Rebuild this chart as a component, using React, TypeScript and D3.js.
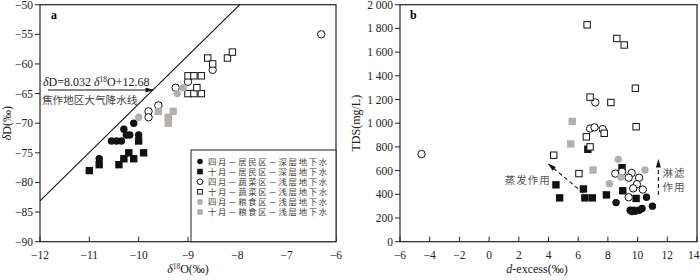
import * as d3 from 'd3'
import React, { useEffect, useRef } from 'react'

const W = 700
const H = 280

// panel a: δ18O (x) vs δD (y)
const aAprResDeep = [[-10.1, -70], [-10.3, -71], [-10.25, -72], [-10.18, -72], [-10.55, -73], [-10.45, -73], [-10.35, -73], [-10.0, -72], [-10.8, -76]]
const aOctResDeep = [[-10.0, -73], [-10.2, -75], [-9.9, -75], [-10.1, -76], [-10.3, -76], [-10.4, -77], [-10.8, -77], [-11.0, -78]]
const aAprVegShallow = [[-6.3, -55], [-8.5, -61], [-9.0, -63], [-9.25, -64], [-9.6, -67], [-9.8, -68], [-9.8, -69]]
const aOctVegShallow = [[-8.6, -59], [-8.5, -60], [-8.2, -59], [-8.1, -58], [-9.0, -62], [-8.88, -62], [-8.73, -62], [-9.0, -65], [-8.88, -65], [-8.73, -65], [-8.82, -64]]
const aAprGrainShallow = [[-9.1, -64], [-9.22, -65], [-10.0, -69]]
const aOctGrainShallow = [[-9.6, -68], [-9.3, -68], [-9.4, -69], [-9.4, -70]]

// panel b: d-excess (x) vs TDS (y)
const bAprResDeep = [[8.55, 330], [9.5, 265], [9.75, 265], [10.1, 265], [10.3, 280], [9.62, 255], [9.85, 258], [10.6, 375], [11.0, 300]]
const bOctResDeep = [[6.65, 780], [4.5, 480], [4.75, 370], [6.35, 445], [6.45, 370], [6.95, 370], [7.9, 395], [8.95, 625], [9.0, 430], [9.9, 365]]
const bAprVegShallow = [[-4.55, 740], [7.15, 1175], [6.8, 955], [7.1, 965], [7.65, 950], [8.5, 575], [8.95, 590], [9.6, 580], [9.4, 540], [10.1, 540], [9.95, 485], [9.7, 450], [10.35, 440], [9.4, 375]]
const bOctVegShallow = [[6.6, 1830], [8.6, 1715], [9.1, 1660], [9.85, 1295], [6.8, 1220], [8.2, 1175], [9.9, 970], [7.75, 915], [6.55, 885], [6.8, 800], [4.35, 730], [6.05, 575]]
const bAprGrainShallow = [[8.1, 490], [8.7, 695], [8.88, 545], [10.5, 605]]
const bOctGrainShallow = [[5.6, 1015], [5.5, 825], [7.0, 605]]

const legendLabels = [
    '四月－居民区－深层地下水',
    '十月－居民区－深层地下水',
    '四月－蔬菜区－浅层地下水',
    '十月－蔬菜区－浅层地下水',
    '四月－粮食区－浅层地下水',
    '十月－粮食区－浅层地下水',
]

const aXTicks = [-12, -11, -10, -9, -8, -7, -6]
const aYTicks = [-50, -55, -60, -65, -70, -75, -80, -85, -90]
const bXTicks = [-6, -4, -2, 0, 2, 4, 6, 8, 10, 12, 14]
const bYTicks = [0, 200, 400, 600, 800, 1000, 1200, 1400, 1600, 1800, 2000]

// meteoric water line as drawn in the figure (ends)
const lmwlEnds = [[-12, -83.1], [-7.95, -50]]
const evapArrow = [[6.35, 410], [4.0, 655]]
const leachArrow = [[11.4, 395], [11.4, 690]]

const GREY = '#b3afad'
const SERIF = '"Liberation Serif", "DejaVu Serif", serif'
const CJK = '"Noto Sans CJK SC", sans-serif'

// marker styles, same order as legend
const markStyles = [
    { shape: 'circle', fill: '#111', stroke: 'none' },
    { shape: 'square', fill: '#111', stroke: 'none' },
    { shape: 'circle', fill: '#fff', stroke: '#111' },
    { shape: 'square', fill: '#fff', stroke: '#111' },
    { shape: 'circle', fill: GREY, stroke: 'none' },
    { shape: 'square', fill: GREY, stroke: 'none' },
]

const drawMark = (g: any, shape: string, x: number, y: number, size: number, fill: string, stroke: string) => {
    if (shape === 'circle') {
        g.append('circle').attr('cx', x).attr('cy', y).attr('r', size / 2)
            .attr('fill', fill).attr('stroke', stroke).attr('stroke-width', 1)
    } else {
        const s = stroke === 'none' ? size : size - 1
        g.append('rect').attr('x', x - s / 2).attr('y', y - s / 2).attr('width', s).attr('height', s)
            .attr('fill', fill).attr('stroke', stroke).attr('stroke-width', 1)
    }
}

const App = (): JSX.Element => {
    const ref = useRef<SVGSVGElement>(null)

    useEffect(() => {
        const svg = d3.select(ref.current)
        svg.selectAll('*').remove()

        const defs = svg.append('defs')
        defs.append('marker').attr('id', 'arr').attr('viewBox', '0 0 10 6')
            .attr('refX', 9).attr('refY', 3).attr('markerWidth', 9).attr('markerHeight', 5)
            .attr('markerUnits', 'userSpaceOnUse').attr('orient', 'auto')
            .append('path').attr('d', 'M0,0 L10,3 L0,6 Z').attr('fill', '#111')

        const top = 4.7
        const bottom = 241.7

        const axes = (x: any, y: any, xTicks: number[], yTicks: number[], yFmt: (v: number) => string) => {
            const [x0, x1] = x.range()
            const g = svg.append('g')
            // frame
            g.append('rect').attr('x', x0).attr('y', top).attr('width', x1 - x0).attr('height', bottom - top)
                .attr('fill', 'none').attr('stroke', '#222').attr('stroke-width', 1.2)
            // x ticks (inward)
            xTicks.forEach((t) => {
                const last = x(t) > 690
                g.append('line').attr('x1', x(t)).attr('x2', x(t)).attr('y1', bottom).attr('y2', bottom - 5)
                    .attr('stroke', '#222')
                g.append('text').attr('x', last ? 699.5 : x(t)).attr('y', bottom + 17)
                    .attr('text-anchor', last ? 'end' : 'middle')
                    .style('font-family', SERIF).style('font-size', '11.5px').attr('fill', '#222')
                    .text(String(t).replace('-', '−'))
            })
            // y ticks (outward)
            yTicks.forEach((t) => {
                g.append('line').attr('x1', x0 - 5).attr('x2', x0).attr('y1', y(t)).attr('y2', y(t))
                    .attr('stroke', '#222')
                g.append('text').attr('x', x0 - 7).attr('y', y(t) + 4).attr('text-anchor', 'end')
                    .style('font-family', SERIF).style('font-size', '11.5px').attr('fill', '#222')
                    .text(yFmt(t))
            })
        }

        // ---------- panel a ----------
        const xa = d3.scaleLinear().domain([-12, -6]).range([40, 336])
        const ya = d3.scaleLinear().domain([-90, -50]).range([bottom, top])
        axes(xa, ya, aXTicks, aYTicks, (v) => String(v).replace('-', '−'))

        // meteoric water line
        svg.append('path').datum(lmwlEnds)
            .attr('d', d3.line().x((d: any) => xa(d[0])).y((d: any) => ya(d[1])) as any)
            .attr('fill', 'none').attr('stroke', '#111').attr('stroke-width', 1.1)

        const eq = svg.append('text').attr('x', 43).attr('y', 86)
            .style('font-family', SERIF).style('font-size', '12px').attr('fill', '#222')
        eq.append('tspan').style('font-style', 'italic').text('δ')
        eq.append('tspan').text('D=8.032  ')
        eq.append('tspan').style('font-style', 'italic').text('δ')
        eq.append('tspan').attr('dy', -4).style('font-size', '7.5px').text('18')
        eq.append('tspan').attr('dy', 4).text('O+12.68')
        svg.append('line').attr('x1', 48).attr('y1', 90).attr('x2', 153).attr('y2', 90)
            .attr('stroke', '#111').attr('stroke-width', 1).attr('marker-end', 'url(#arr)')
        svg.append('text').attr('x', 42).attr('y', 104)
            .style('font-family', CJK).style('font-size', '10.6px').attr('fill', '#444')
            .text('焦作地区大气降水线')

        svg.append('text').attr('x', 51).attr('y', 19)
            .style('font-family', SERIF).style('font-size', '12px').style('font-weight', 'bold').text('a')

        const aSeries = [aAprResDeep, aOctResDeep, aAprVegShallow, aOctVegShallow, aAprGrainShallow, aOctGrainShallow]
        const gA = svg.append('g')
        aSeries.forEach((pts, i) => {
            const st = markStyles[i]
            pts.forEach(([vx, vy]) => drawMark(gA, st.shape, xa(vx), ya(vy), 7.4, st.fill, st.stroke))
        })

        // legend
        const lg = svg.append('g')
        lg.append('rect').attr('x', 191).attr('y', 150).attr('width', 336 - 191).attr('height', bottom - 150)
            .attr('fill', '#fff').attr('stroke', '#222').attr('stroke-width', 1)
        legendLabels.forEach((lab, i) => {
            const cy = 161.5 + i * 10.1
            const st = markStyles[i]
            drawMark(lg, st.shape, 200, cy, 5.6, st.fill, st.stroke)
            lg.append('text').attr('x', 208).attr('y', cy + 3)
                .style('font-family', CJK).style('font-size', '8.4px').style('letter-spacing', '1.7px')
                .attr('fill', '#444').text(lab)
        })

        // axis titles a
        const xta = svg.append('text').attr('x', 188).attr('y', 273).attr('text-anchor', 'middle')
            .style('font-family', SERIF).style('font-size', '12px').attr('fill', '#222')
        xta.append('tspan').style('font-style', 'italic').text('δ')
        xta.append('tspan').attr('dy', -4).style('font-size', '7.5px').text('18')
        xta.append('tspan').attr('dy', 4).text('O(‰)')
        const yta = svg.append('text').attr('transform', `translate(11,${(top + bottom) / 2}) rotate(-90)`)
            .attr('text-anchor', 'middle')
            .style('font-family', SERIF).style('font-size', '12px').attr('fill', '#222')
        yta.append('tspan').style('font-style', 'italic').text('δ')
        yta.append('tspan').text('D(‰)')

        // ---------- panel b ----------
        const xb = d3.scaleLinear().domain([-6, 14]).range([400, 697])
        const yb = d3.scaleLinear().domain([0, 2000]).range([bottom, top])
        axes(xb, yb, bXTicks, bYTicks, (v) => d3.format(',')(v).replace(',', ' '))

        svg.append('text').attr('x', 410).attr('y', 19)
            .style('font-family', SERIF).style('font-size', '12px').style('font-weight', 'bold').text('b')

        const bSeries = [bAprResDeep, bOctResDeep, bAprVegShallow, bOctVegShallow, bAprGrainShallow, bOctGrainShallow]
        const gB = svg.append('g')
        bSeries.forEach((pts, i) => {
            const st = markStyles[i]
            pts.forEach(([vx, vy]) => drawMark(gB, st.shape, xb(vx), yb(vy), 7.4, st.fill, st.stroke))
        })

        ;[evapArrow, leachArrow].forEach((a) => {
            svg.append('line')
                .attr('x1', xb(a[0][0])).attr('y1', yb(a[0][1]))
                .attr('x2', xb(a[1][0])).attr('y2', yb(a[1][1]))
                .attr('stroke', '#111').attr('stroke-width', 1.1).attr('stroke-dasharray', '4,3')
                .attr('marker-end', 'url(#arr)')
        })
        const note = (t: string, vx: number, vy: number) => svg.append('text')
            .attr('x', xb(vx)).attr('y', yb(vy)).attr('text-anchor', 'middle').attr('dy', '0.35em')
            .style('font-family', CJK).style('font-size', '10.5px').style('letter-spacing', '1px')
            .attr('fill', '#555').text(t)
        note('蒸发作用', 2.6, 520)
        note('淋滤', 12.45, 580)
        note('作用', 12.45, 455)

        const xtb = svg.append('text').attr('x', 537).attr('y', 273).attr('text-anchor', 'middle')
            .style('font-family', SERIF).style('font-size', '12px').attr('fill', '#222')
        xtb.append('tspan').style('font-style', 'italic').text('d')
        xtb.append('tspan').text('-excess(‰)')
        svg.append('text').attr('transform', `translate(360,${(top + bottom) / 2}) rotate(-90)`)
            .attr('text-anchor', 'middle')
            .style('font-family', SERIF).style('font-size', '12px').attr('fill', '#222')
            .text('TDS(mg/L)')
    }, [])

    return (
        <svg ref={ref} width={W} height={H}
            style={{ position: 'absolute', left: 0, top: 0, background: '#fff' }} />
    )
}

export default App
